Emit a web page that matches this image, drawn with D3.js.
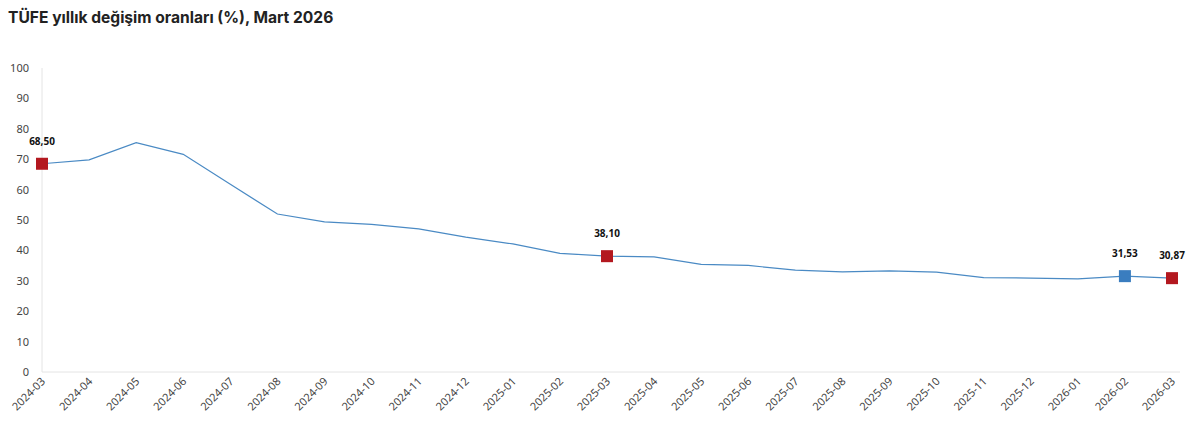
<!DOCTYPE html>
<html><head><meta charset="utf-8">
<script src="https://cdn.jsdelivr.net/npm/d3@7"></script>
<style>body{margin:0;background:#fff;font-family:"Noto Sans",sans-serif}</style>
</head><body><svg id="c" width="1200" height="426"></svg>
<script>
const months=["2024-03","2024-04","2024-05","2024-06","2024-07","2024-08","2024-09","2024-10","2024-11","2024-12","2025-01","2025-02","2025-03","2025-04","2025-05","2025-06","2025-07","2025-08","2025-09","2025-10","2025-11","2025-12","2026-01","2026-02","2026-03"];
const values=[68.50,69.80,75.45,71.60,61.78,51.97,49.38,48.58,47.09,44.38,42.12,39.05,38.10,37.86,35.41,35.05,33.52,32.95,33.29,32.87,31.07,30.89,30.65,31.53,30.87];
const highlights=[{m:"2024-03",c:"#b3181f"},{m:"2025-03",c:"#b3181f"},{m:"2026-02",c:"#3a7dbf"},{m:"2026-03",c:"#b3181f"}];
const yTicks=[0,10,20,30,40,50,60,70,80,90,100];
const svg=d3.select("#c");
const x=d3.scalePoint().domain(months).range([42,1172]);
const y=d3.scaleLinear().domain([0,100]).range([372,68]);
svg.append("text").attr("x",8).attr("y",23).attr("font-size",15.6).attr("font-weight",700).attr("fill","#222").attr("font-family","Inter,sans-serif").text("TÜFE yıllık değişim oranları (%), Mart 2026");
svg.append("line").attr("x1",42).attr("x2",42).attr("y1",68).attr("y2",372).attr("stroke","#e4e4e4");
svg.append("line").attr("x1",42).attr("x2",1180).attr("y1",372).attr("y2",372).attr("stroke","#e4e4e4");
svg.selectAll(".yt").data(yTicks).join("text").attr("x",29).attr("y",d=>y(d)+4).attr("text-anchor","end").attr("font-size",11).attr("fill","#444").text(d=>d);
svg.selectAll(".xt").data(months).join("text").attr("font-size",11).attr("fill","#444").attr("text-anchor","end")
 .attr("transform",d=>`translate(${x(d)+4},${382}) rotate(-45)`).text(d=>d);
svg.append("path").datum(values).attr("fill","none").attr("stroke","#4a8ac4").attr("stroke-width",1.2)
 .attr("d",d3.line().x((d,i)=>x(months[i])).y(d=>y(d)));
highlights.forEach(h=>{const v=values[months.indexOf(h.m)];const cx=x(h.m),cy=y(v);
 svg.append("rect").attr("x",cx-6).attr("y",cy-6).attr("width",12).attr("height",12).attr("fill",h.c);
 svg.append("text").attr("x",cx).attr("y",cy-19).attr("text-anchor","middle").attr("font-size",10).attr("font-weight",700).attr("fill","#111").text(v.toFixed(2).replace(".",","));
});
</script></body></html>
